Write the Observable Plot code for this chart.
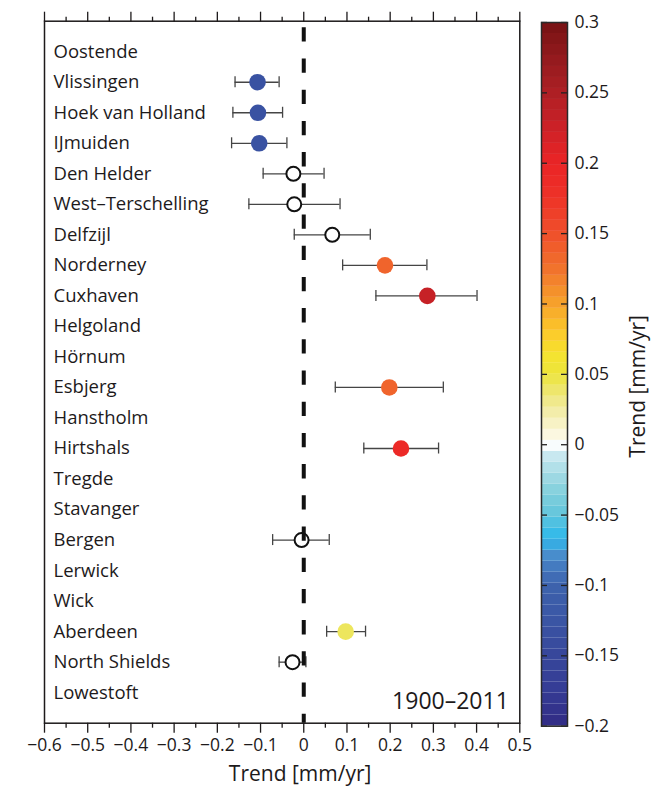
<!DOCTYPE html>
<html>
<head>
<meta charset="utf-8">
<script src="https://cdn.jsdelivr.net/npm/d3@7"></script>
<script src="https://cdn.jsdelivr.net/npm/@observablehq/plot@0.6"></script>
<style>
  body { margin: 0; background: #fff; }
  #chart { position: relative; width: 652px; height: 787px; }
  #chart svg { position: absolute; top: 0; }
</style>
</head>
<body>
<div id="chart"></div>
<script>
// ---- data ----
const stations = ["Oostende", "Vlissingen", "Hoek van Holland", "IJmuiden", "Den Helder",
  "West–Terschelling", "Delfzijl", "Norderney", "Cuxhaven", "Helgoland", "Hörnum", "Esbjerg",
  "Hanstholm", "Hirtshals", "Tregde", "Stavanger", "Bergen", "Lerwick", "Wick", "Aberdeen",
  "North Shields", "Lowestoft"];
const trend = [null, -0.107, -0.106, -0.103, -0.024, -0.022, 0.066, 0.188, 0.286, null, null, 0.198,
  null, 0.225, null, null, -0.005, null, null, 0.097, -0.026, null];
const lower = [null, -0.159, -0.164, -0.167, -0.094, -0.127, -0.022, 0.090, 0.167, null, null, 0.073,
  null, 0.139, null, null, -0.072, null, null, 0.053, -0.057, null];
const upper = [null, -0.057, -0.049, -0.039, 0.047, 0.084, 0.154, 0.285, 0.401, null, null, 0.323,
  null, 0.312, null, null, 0.059, null, null, 0.143, 0.005, null];
const significant = [false, true, true, true, false, false, false, true, true, false, false, true,
  false, true, false, false, false, false, false, true, false, false];
// colour of each filled marker, read against the colour bar
const markerColourValue = [null, -0.13, -0.13, -0.13, null, null, null, 0.135, 0.23, null, null, 0.135,
  null, 0.19, null, null, null, null, null, 0.042, null, null];

const xTicksMajor = [-0.6, -0.5, -0.4, -0.3, -0.2, -0.1, 0, 0.1, 0.2, 0.3, 0.4, 0.5];
const xTicksMinor = [-0.55, -0.45, -0.35, -0.25, -0.15, -0.05, 0.05, 0.15, 0.25, 0.35, 0.45];
const colorbarTicks = [-0.2, -0.15, -0.1, -0.05, 0, 0.05, 0.1, 0.15, 0.2, 0.25, 0.3];
const colorbarLevels = 64;
const colorStopValues = [-0.2, -0.175, -0.15, -0.125, -0.1, -0.09, -0.075, -0.068, -0.06, -0.05,
  -0.035, -0.02, -0.005, 0, 0.008, 0.02, 0.035, 0.05, 0.065, 0.08, 0.1, 0.125, 0.15, 0.175, 0.2,
  0.225, 0.25, 0.275, 0.3];
const colorStops = ["#312b84", "#353c95", "#37479b", "#3a55a4", "#3d63ad", "#4274bb", "#4a96d2",
  "#2ab9ec", "#40bde6", "#63c6dc", "#80cfdc", "#a8dce6", "#d2ecf3", "#ffffff", "#faf6dc", "#f4efb4",
  "#eee67a", "#ece53c", "#f6e22e", "#fcc82a", "#f6a12b", "#f1722c", "#ef4f2b", "#ee3228", "#ea2426",
  "#cc2127", "#ad1f24", "#921a1d", "#771214"];
const periodLabel = "1900–2011";
const xLabel = "Trend [mm/yr]";
const colorbarLabel = "Trend [mm/yr]";

// ---- tables ----
const rows = stations.map((s, i) => ({
  station: s, trend: trend[i], lower: lower[i], upper: upper[i],
  sig: significant[i], colour: markerColourValue[i]
}));
const withData = rows.filter(d => d.trend != null);
const filled = withData.filter(d => d.sig);
const open = withData.filter(d => !d.sig);

const colorSpec = {type: "linear", domain: colorStopValues, range: colorStops};
const font = "'Open Sans', sans-serif";
const ink = "#1d1a1b";
const xFmt = d => d === 0 ? "0" : d3.format(".1f")(d);
const capInset = (702 / 23 - 11) / 2;

// ---- main panel ----
const main = Plot.plot({
  width: 652, height: 787,
  marginLeft: 44, marginRight: 132.7, marginTop: 20.7, marginBottom: 64.3,
  style: {fontFamily: font, fontSize: "17px", color: ink, background: "white"},
  x: {domain: [-0.6, 0.5]},
  y: {type: "band", domain: stations, paddingInner: 0, paddingOuter: 0.5, round: false, axis: null},
  color: colorSpec,
  marks: [
    Plot.axisX({anchor: "top", ticks: xTicksMinor, tickSize: 5, tickFormat: () => "", label: null, strokeWidth: 1.3}),
    Plot.axisX({anchor: "top", ticks: xTicksMajor, tickSize: 10, tickFormat: () => "", label: null, strokeWidth: 1.3}),
    Plot.axisX({anchor: "bottom", ticks: xTicksMinor, tickSize: 5, tickFormat: () => "", label: null, strokeWidth: 1.3}),
    Plot.axisX({anchor: "bottom", ticks: xTicksMajor, tickSize: 10, tickPadding: 5, tickFormat: xFmt, label: null, strokeWidth: 1.3, fontSize: 17.5}),
    Plot.frame({stroke: ink, strokeWidth: 1.5}),
    Plot.text(stations, {y: d => d, text: d => d, frameAnchor: "left", dx: 9, textAnchor: "start", fontSize: 18.5, fill: ink}),
    Plot.ruleY(withData, {y: "station", x1: "lower", x2: "upper", stroke: "#454545", strokeWidth: 1.3}),
    Plot.tickX(withData, {x: "lower", y: "station", insetTop: capInset, insetBottom: capInset, stroke: "#454545", strokeWidth: 1.3}),
    Plot.tickX(withData, {x: "upper", y: "station", insetTop: capInset, insetBottom: capInset, stroke: "#454545", strokeWidth: 1.3}),
    Plot.dot(open, {x: "trend", y: "station", r: 7, fill: "white", stroke: "#111", strokeWidth: 2}),
    Plot.dot(filled, {x: "trend", y: "station", r: 8.3, fill: d => d.colour}),
    Plot.ruleX([0], {stroke: "#111", strokeWidth: 4, strokeDasharray: "14.3,16.9", strokeDashoffset: 24.6}),
    Plot.text([periodLabel], {text: d => d, frameAnchor: "bottom-right", dx: -11, dy: -21.5, textAnchor: "end", lineAnchor: "middle", fontSize: 23, fill: ink}),
    Plot.text([xLabel], {text: d => d, frameAnchor: "bottom", dx: 18, dy: 51.5, textAnchor: "middle", lineAnchor: "middle", fontSize: 21, fill: ink})
  ]
});

// ---- colour bar ----
const step = 0.5 / colorbarLevels;
const levels = d3.range(colorbarLevels).map(i => ({lo: -0.2 + i * step, hi: -0.2 + (i + 1) * step, mid: -0.2 + (i + 0.5) * step}));
const cbFmt = d => d === 0 ? "0" : d3.format("~g")(d);
const bar = Plot.plot({
  width: 132, height: 787,
  marginLeft: 21, marginRight: 85, marginTop: 22, marginBottom: 61.3,
  style: {fontFamily: font, fontSize: "17px", color: ink, background: "transparent"},
  y: {domain: [-0.2, 0.3], axis: null},
  color: colorSpec,
  marks: [
    Plot.rect(levels, {y1: "lo", y2: "hi", fill: "mid"}),
    Plot.tickY(colorbarTicks, {y: d => d, insetRight: 20, stroke: "#222", strokeWidth: 1.3}),
    Plot.tickY(colorbarTicks, {y: d => d, insetLeft: 20, stroke: "#222", strokeWidth: 1.3}),
    Plot.frame({stroke: "#2a2a2a", strokeWidth: 1.5}),
    Plot.text(colorbarTicks, {y: d => d, text: cbFmt, frameAnchor: "right", dx: 7, textAnchor: "start", lineAnchor: "middle", fontSize: 17.5, fill: ink}),
    Plot.text([colorbarLabel], {text: d => d, frameAnchor: "right", dx: 71, dy: 12, rotate: -90, textAnchor: "middle", lineAnchor: "middle", fontSize: 21, fill: ink})
  ]
});
bar.style.left = "520px";
main.style.left = "0px";

const chart = document.getElementById("chart");
chart.appendChild(main);
chart.appendChild(bar);
</script>
</body>
</html>
